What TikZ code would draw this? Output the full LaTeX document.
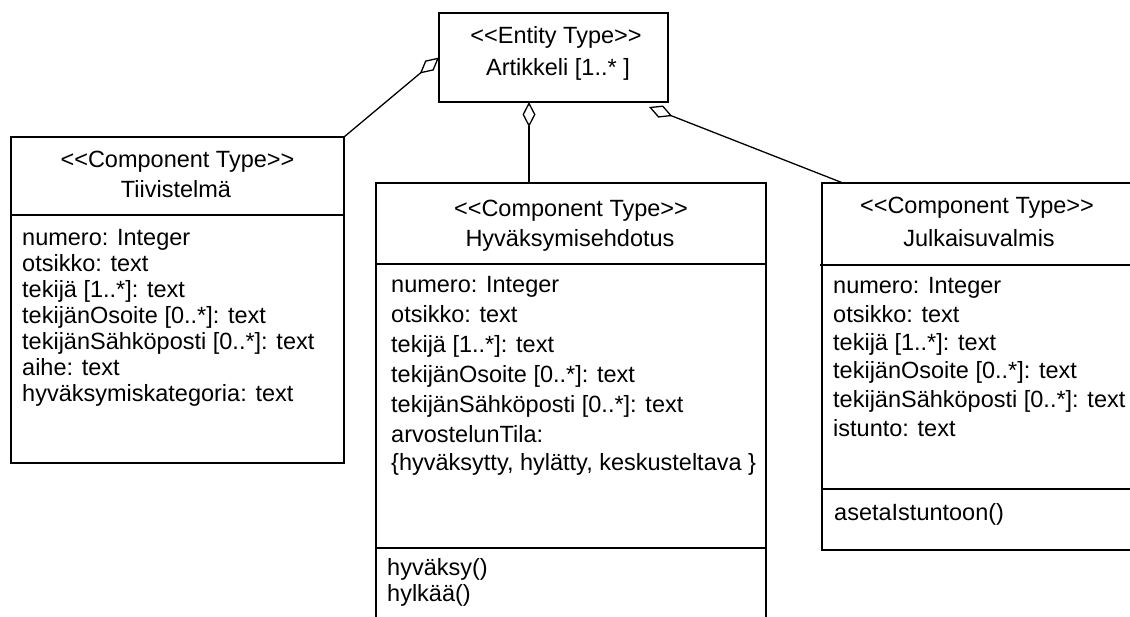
\documentclass[tikz,border=0pt]{standalone}
\usepackage{fontspec}
\setmainfont{Liberation Sans}[Ligatures=TeXOff]
\usetikzlibrary{arrows.meta,calc}
\begin{document}
\begin{tikzpicture}[x=1pt,y=-1pt,
  box/.style={draw, line width=1.8pt, inner sep=0pt, outer sep=0pt},
  rule/.style={line width=1.5pt},
  lbl/.style={font=\fontsize{23.5}{28}\selectfont, inner sep=0pt, anchor=base},
  attr/.style={lbl, anchor=base west},
  aggr/.style={line width=1.3pt,
    -{Diamond[open, length=25pt, width=13pt, line width=1.3pt]}}
]
\useasboundingbox (0,0) rectangle (1130,616);
\clip (0,0) rectangle (1130,616);

% class boxes
\node[box, minimum width=229pt, minimum height=89pt]  (art)  at (553.5,57.5)  {};
\node[box, minimum width=333pt, minimum height=326pt] (tiiv) at (177.5,300)   {};
\node[box, minimum width=390pt, minimum height=442pt] (hyv)  at (571,404)     {};
\node[box, minimum width=313pt, minimum height=367pt] (julk) at (978.5,366.5) {};

% compartment separators
\draw[rule] ($(tiiv.north west)+(0,78)$)  -- ($(tiiv.north east)+(0,78)$);
\draw[rule] ($(hyv.north west)+(0,81)$)   -- ($(hyv.north east)+(0,81)$);
\draw[rule] ($(hyv.north west)+(0,365)$)  -- ($(hyv.north east)+(0,365)$);
\draw[rule] ($(julk.north west)+(-2,82)$) -- ($(julk.north east)+(0,82)$);
\draw[rule] ($(julk.north west)+(0,306)$) -- ($(julk.north east)+(0,306)$);

% entity type
\node[lbl] (artS) at (556,43) {<<Entity Type>>};
\node[lbl] (artN) at (558,75) {Artikkeli [1..* ]};

% Tiivistelmä
\node[lbl] (tiivS) at (177.5,167) {<<Component Type>>};
\node[lbl] (tiivN) at (176,197) {Tiivistelmä};
\foreach \t [count=\i] in {numero: Integer, otsikko: text, tekijä [1..*]: text,
    tekijänOsoite [0..*]: text, tekijänSähköposti [0..*]: text, aihe: text,
    hyväksymiskategoria: text}
  \node[attr] (tiivA\i) at (22,{245+26*(\i-1)}) {\t};

% Hyväksymisehdotus
\node[lbl] (hyvS) at (571,216) {<<Component Type>>};
\node[lbl] (hyvN) at (570,246) {Hyväksymisehdotus};
\foreach \t/\yy [count=\i] in {numero: Integer/292, otsikko: text/322,
    tekijä [1..*]: text/352, tekijänOsoite [0..*]: text/382,
    tekijänSähköposti [0..*]: text/412, arvostelunTila:/442,
    {\{hyväksytty, hylätty, keskusteltava \}}/470}
  \node[attr] (hyvA\i) at (391,\yy) {\t};
\node[attr] (hyvM1) at (387,575) {hyväksy()};
\node[attr] (hyvM2) at (387,601) {hylkää()};

% Julkaisuvalmis
\node[lbl] (julkS) at (977,213) {<<Component Type>>};
\node[lbl] (julkN) at (979,246) {Julkaisuvalmis};
\foreach \t/\yy [count=\i] in {numero: Integer/293, otsikko: text/322,
    tekijä [1..*]: text/350, tekijänOsoite [0..*]: text/378,
    tekijänSähköposti [0..*]: text/407, istunto: text/436}
  \node[attr] (julkA\i) at (833,\yy) {\t};
\node[attr] (julkM1) at (834,520) {asetaIstuntoon()};

% aggregations
\draw[aggr] (tiiv.north east) -- (art.west);
\draw[aggr] ($(hyv.north west)+(153,0)$) -- ($(art.south west)+(90,0)$);
\draw[aggr] ($(julk.north west)+(21,0)$) -- ($(art.south east)+(-19,5)$);
\end{tikzpicture}
\end{document}
